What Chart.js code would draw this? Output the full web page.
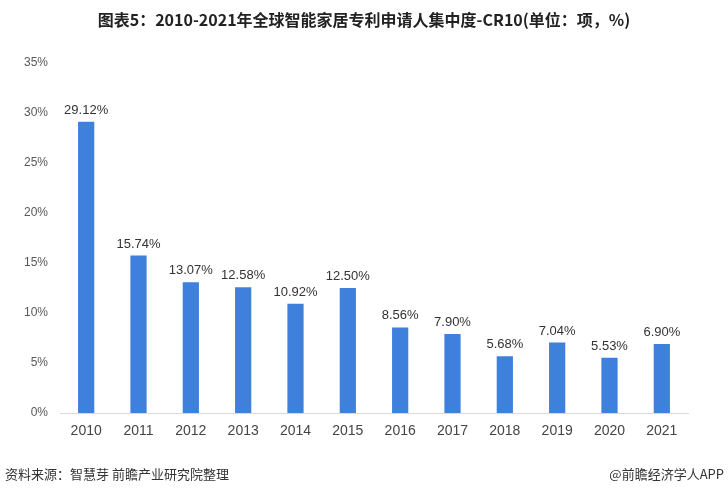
<!DOCTYPE html>
<html>
<head>
<meta charset="utf-8">
<script src="https://cdn.jsdelivr.net/npm/chart.js@4/dist/chart.umd.min.js"></script>
<style>
  html, body { margin: 0; padding: 0; background: #fff; }
  #wrap { width: 728px; height: 496px; position: relative; }
</style>
</head>
<body>
<div id="wrap"><canvas id="grafica"></canvas></div>
<script>
const years = ["2010", "2011", "2012", "2013", "2014", "2015", "2016", "2017", "2018", "2019", "2020", "2021"];
const cr10 = [29.12, 15.74, 13.07, 12.58, 10.92, 12.50, 8.56, 7.90, 5.68, 7.04, 5.53, 6.90];
const titulo = "图表5：2010-2021年全球智能家居专利申请人集中度-CR10(单位：项，%)";
const fuente = "资料来源：智慧芽 前瞻产业研究院整理";
const marca = "@前瞻经济学人APP";

const fontCJK = "'Noto Sans CJK SC', 'Liberation Sans', sans-serif";

// titulo, pie de pagina y etiquetas de valor
const textos = {
  id: "textos",
  afterDatasetsDraw(chart) {
    const ctx = chart.ctx;
    ctx.save();
    ctx.fillStyle = "#333";
    ctx.font = "13px 'Liberation Sans', Arial, sans-serif";
    ctx.textAlign = "center";
    ctx.textBaseline = "bottom";
    chart.getDatasetMeta(0).data.forEach((bar, i) => {
      ctx.fillText(cr10[i].toFixed(2) + "%", bar.x, bar.y - 5);
    });
    ctx.restore();
  },
  afterDraw(chart) {
    const ctx = chart.ctx;
    ctx.save();
    ctx.fillStyle = "#222";
    ctx.font = "bold 16px " + fontCJK;
    ctx.textAlign = "center";
    ctx.textBaseline = "middle";
    ctx.fillText(titulo, 364, 20);

    ctx.fillStyle = "#333";
    ctx.font = "13px " + fontCJK;
    ctx.textAlign = "left";
    ctx.fillText(fuente, 5, 474);
    ctx.textAlign = "right";
    ctx.fillText(marca, 724, 474);
    ctx.restore();
  }
};

new Chart(document.getElementById("grafica").getContext("2d"), {
  type: "bar",
  data: {
    labels: years,
    datasets: [{
      data: cr10,
      backgroundColor: "#3f80dd",
      barPercentage: 0.62,
      categoryPercentage: 0.5
    }]
  },
  options: {
    responsive: true,
    maintainAspectRatio: false,
    animation: false,
    layout: { padding: { left: 0, right: 40, top: 63, bottom: 53 } },
    plugins: {
      legend: { display: false },
      tooltip: { enabled: false }
    },
    scales: {
      x: {
        grid: { display: false, drawTicks: false },
        border: { display: true, color: "#d9d9d9", width: 1 },
        ticks: {
          padding: 10,
          color: "#444",
          font: { size: 14, family: "'Liberation Sans', Arial, sans-serif" }
        },
        afterFit(scale) { scale.height = 30; }
      },
      y: {
        min: 0,
        max: 35,
        grid: { display: false, drawTicks: false },
        border: { display: false },
        ticks: {
          stepSize: 5,
          padding: 12,
          color: "#595959",
          font: { size: 12, family: "'Liberation Sans', Arial, sans-serif" },
          callback: (v) => v + "%"
        },
        afterFit(scale) { scale.width = 60; }
      }
    }
  },
  plugins: [textos]
});
</script>
</body>
</html>
